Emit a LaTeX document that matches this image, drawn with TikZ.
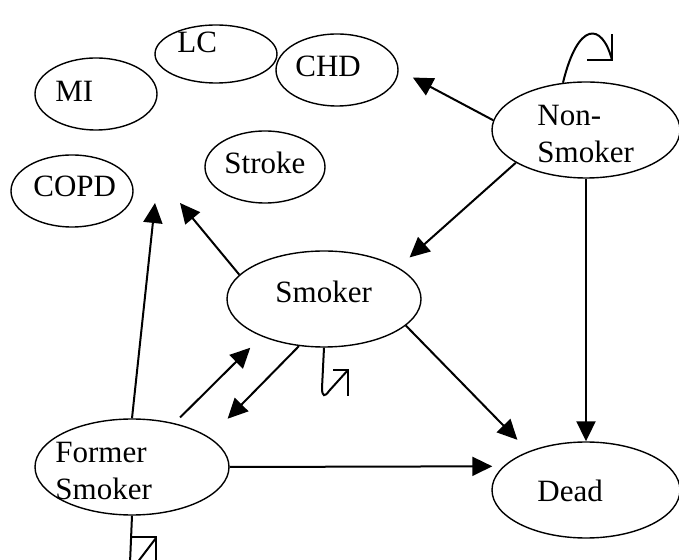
\documentclass[tikz,border=0pt]{standalone}
\usepackage{fontspec}
\setmainfont{Liberation Serif}
\usetikzlibrary{shapes.geometric,arrows.meta}

\tikzset{
	Zustand/.style={draw=black, ellipse, line width=0.7pt, inner sep=0pt}
}
\tikzset{
	Beschriftung/.style={anchor=base west, inner sep=0pt, align=left, font=\fontsize{15.5}{18.5}\selectfont}
}
\tikzset{
	Pfeil/.style={black, line width=1pt, -{Triangle[length=10pt,width=9.5pt]}}
}
\tikzset{
	Schleife/.style={black, line width=1pt, line join=miter}
}

\begin{document}
\begin{tikzpicture}[x=0.5pt,y=-0.5pt]
\clip (0,0) rectangle (679,560);

%Krankheiten
\node[Zustand, minimum width=61pt, minimum height=36pt] (MI) at (96,94) {};
\node[Zustand, minimum width=61pt, minimum height=29pt] (LC) at (216,54) {};
\node[Zustand, minimum width=61pt, minimum height=36pt] (CHD) at (337,70) {};
\node[Zustand, minimum width=60pt, minimum height=36pt] (Stroke) at (265,167) {};
\node[Zustand, minimum width=61pt, minimum height=36pt] (COPD) at (72,191) {};

%Zustaende
\node[Zustand, minimum width=94pt, minimum height=48pt] (Non) at (586,130) {};
\node[Zustand, minimum width=97pt, minimum height=48pt] (Smoker) at (324,299) {};
\node[Zustand, minimum width=97pt, minimum height=48pt] (Former) at (132,467) {};
\node[Zustand, minimum width=94pt, minimum height=48pt] (Dead) at (586,490) {};

%Texte (base = letzte Zeile)
\node[Beschriftung] (MItext) at (55,102) {MI};
\node[Beschriftung] (LCtext) at (177,53) {LC};
\node[Beschriftung] (CHDtext) at (295,77) {CHD};
\node[Beschriftung] (Stroketext) at (224,174) {Stroke};
\node[Beschriftung] (COPDtext) at (33,197) {COPD};
\node[Beschriftung] (Nontext) at (537,163) {Non-\\Smoker};
\node[Beschriftung] (Smokertext) at (275,303) {Smoker};
\node[Beschriftung] (Formertext) at (55,499) {Former\\Smoker};
\node[Beschriftung] (Deadtext) at (537,501) {Dead};

%freie Enden
\coordinate (zuStroke) at (180,203);
\coordinate (zuCOPD) at (155,203);

%Uebergaenge
\draw[Pfeil, shorten >=8pt] (Non.174) -- (CHD.east);
\draw[Pfeil, shorten >=7.5pt] (Non.205) -- (Smoker.23);
\draw[Pfeil] (Non.south) -- (Dead.north);
\draw[Pfeil] (Smoker.164) -- (zuStroke);
\draw[Pfeil, shorten >=8pt] (Smoker.-18) -- (Dead.146);
\draw[Pfeil, shorten >=13pt] (Smoker.242) -- (Former.21);
\draw[Pfeil, shorten <=4pt, shorten >=8pt] (Former.46) -- (Smoker.211);
\draw[Pfeil] (Former.north) -- (zuCOPD);
\draw[Pfeil, shorten >=5.5pt] (Former.east) -- (Dead.164);

%Schleifen
\draw[Schleife] (Non.116) .. controls (578,21) and (602,22) .. (612,60);
\draw[Schleife] (587,60) -- (612,60) -- (612,34);
\draw[Schleife] (Smoker.south) -- (322,388) .. controls (322,397) and (325,397) .. (329,391) -- (348,370);
\draw[Schleife] (333,370) -- (348,370) -- (348,396);
\draw[Schleife] (Former.south) -- (130,563) .. controls (130,570) and (132,570) .. (137,563) -- (156,538);
\draw[Schleife] (130,537) -- (156,537) -- (156,562);
\end{tikzpicture}
\end{document}
